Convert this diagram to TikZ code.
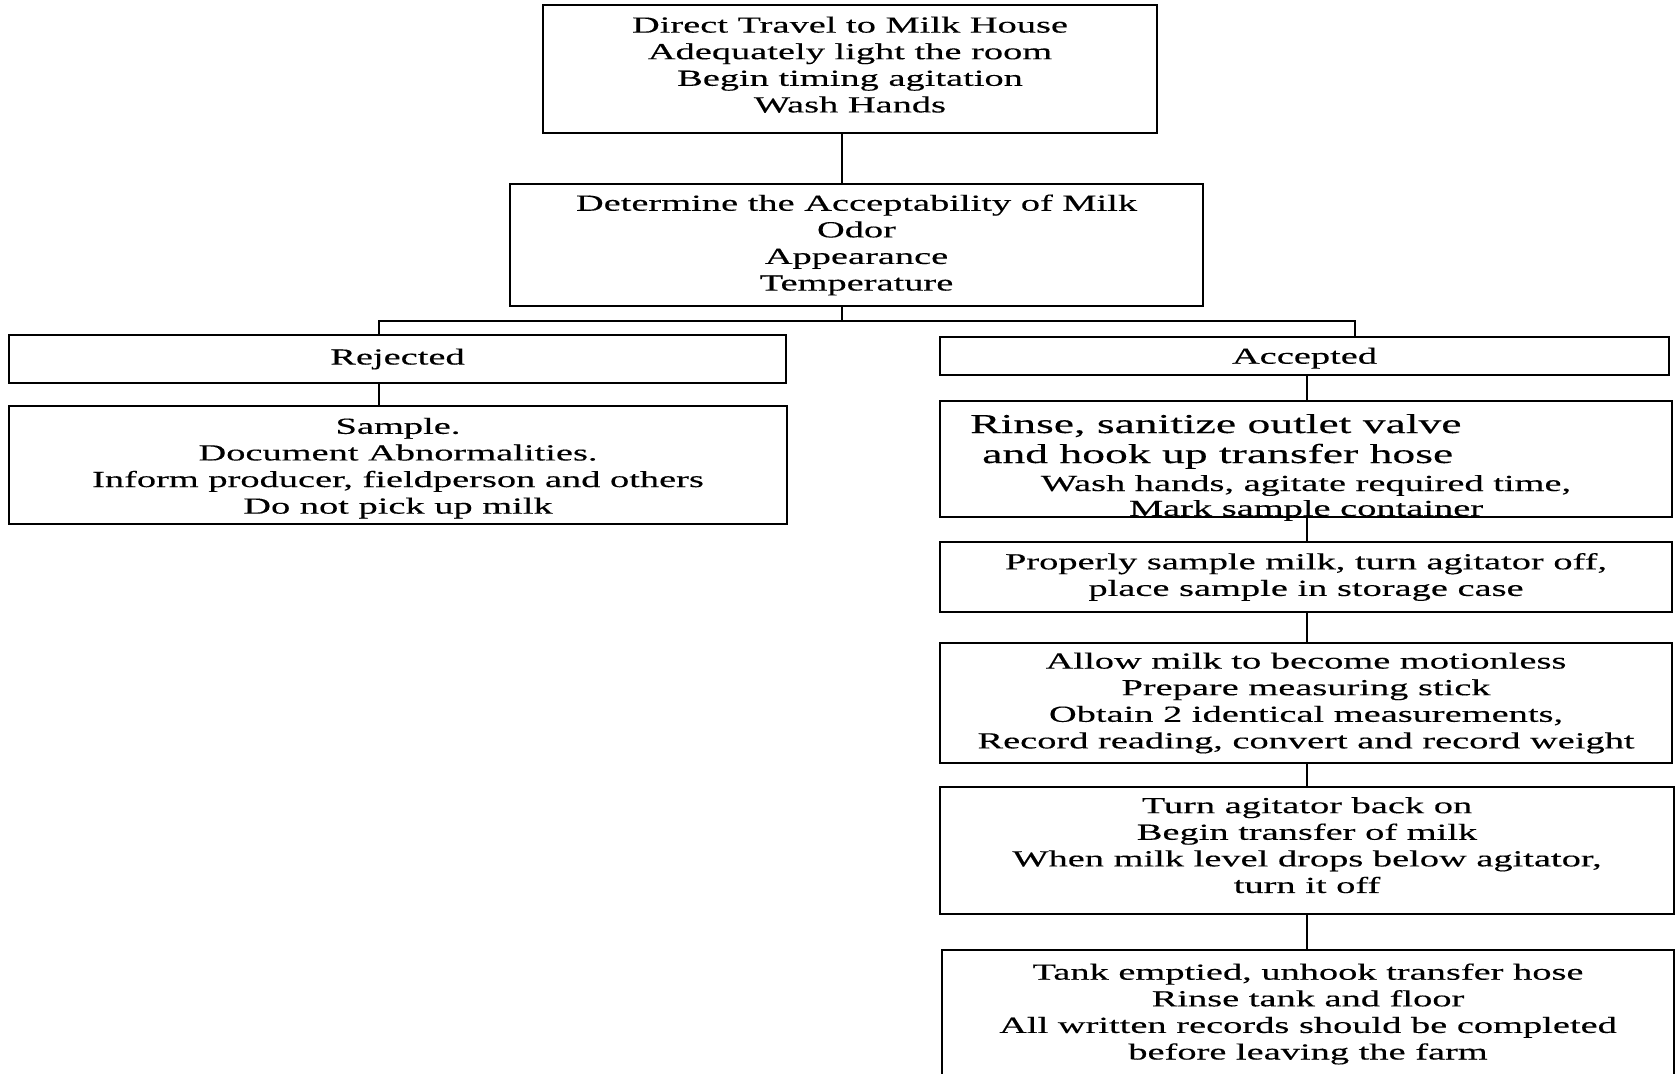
\documentclass[tikz,border=0pt]{standalone}
\usepackage{fontspec}
\setmainfont{Liberation Serif}[FakeStretch=1.67,FakeBold=0.3]
\begin{document}
\begin{tikzpicture}[x=1pt,y=-1pt,
  box/.style={draw, line width=1.8pt, inner sep=0pt, align=center,
    font=\fontsize{23}{26.6}\selectfont},
  txt/.style={inner sep=0pt, align=center, font=\fontsize{23}{26.6}\selectfont},
  bigtxt/.style={inner sep=0pt, font=\fontsize{27.3}{30}\selectfont},
  conn/.style={line width=1.8pt}]
\useasboundingbox (0,0) rectangle (1677,1073);
\clip (0,0) rectangle (1677,1073);
\fill[white] (0,0) rectangle (1677,1073);

\node[box, minimum width=614pt, minimum height=128pt] (b1) at (850,69) {};
\node[txt] (t1) at (850,64.7)
  {Direct Travel to Milk House\\Adequately light the room\\Begin timing agitation\\Wash Hands};
\node[box, minimum width=693pt, minimum height=122pt] (b2) at (856.5,245)
  {Determine the Acceptability of Milk\\Odor\\Appearance\\Temperature};
\node[box, minimum width=777pt, minimum height=48pt] (rej) at (397.5,359) {Rejected};
\node[box, minimum width=778pt, minimum height=118pt] (rejd) at (398,465) {};
\node[txt] (trejd) at (398,468.2)
  {Sample.\\Document Abnormalities.\\Inform producer, fieldperson and others\\Do not pick up milk};
\node[box, minimum width=729pt, minimum height=38pt] (acc) at (1304.5,356) {};
\node[txt] (tacc) at (1304.5,358.2) {Accepted};
\node[box, minimum width=732pt, minimum height=116pt] (rinse) at (1306,459) {};
\node[bigtxt, anchor=base west] (r1) at (970,433) {Rinse, sanitize outlet valve};
\node[bigtxt, anchor=base west] (r2) at (982,463) {and hook up transfer hose};
\node[txt, anchor=base] (r3) at (1306,491) {Wash hands, agitate required time,};
\node[txt, anchor=base] (r4) at (1306,516) {Mark sample container};
\node[box, minimum width=732pt, minimum height=70pt] (prop) at (1306,577)
  {Properly sample milk, turn agitator off,\\place sample in storage case};
\node[box, minimum width=732pt, minimum height=120pt] (allow) at (1306,703)
  {Allow milk to become motionless\\Prepare measuring stick\\Obtain 2 identical measurements,\\Record reading, convert and record weight};
\node[box, minimum width=734pt, minimum height=127pt] (turn) at (1307,850.5) {};
\node[txt] (tturn) at (1307,845.2)
  {Turn agitator back on\\Begin transfer of milk\\When milk level drops below agitator,\\turn it off};
\node[box, minimum width=732pt, minimum height=128pt] (tank) at (1308,1014)
  {Tank emptied, unhook transfer hose\\Rinse tank and floor\\All written records should be completed\\before leaving the farm};

\coordinate (cx) at (842,0);
\coordinate (lx) at (379,0);
\coordinate (rx) at (1355,0);
\coordinate (ax) at (1307,0);
\coordinate (bus) at (0,321);

\draw[conn] (b1.south -| cx) -- (b2.north -| cx);
\draw[conn] (b2.south -| cx) -- (bus -| cx);
\draw[conn] (rej.north -| lx) |- (bus -| rx) -- (acc.north -| rx);
\draw[conn] (rej.south -| lx) -- (rejd.north -| lx);
\draw[conn] (acc.south -| ax) -- (rinse.north -| ax);
\draw[conn] (rinse.south -| ax) -- (prop.north -| ax);
\draw[conn] (prop.south -| ax) -- (allow.north -| ax);
\draw[conn] (allow.south -| ax) -- (turn.north -| ax);
\draw[conn] (turn.south -| ax) -- (tank.north -| ax);
\end{tikzpicture}
\end{document}
